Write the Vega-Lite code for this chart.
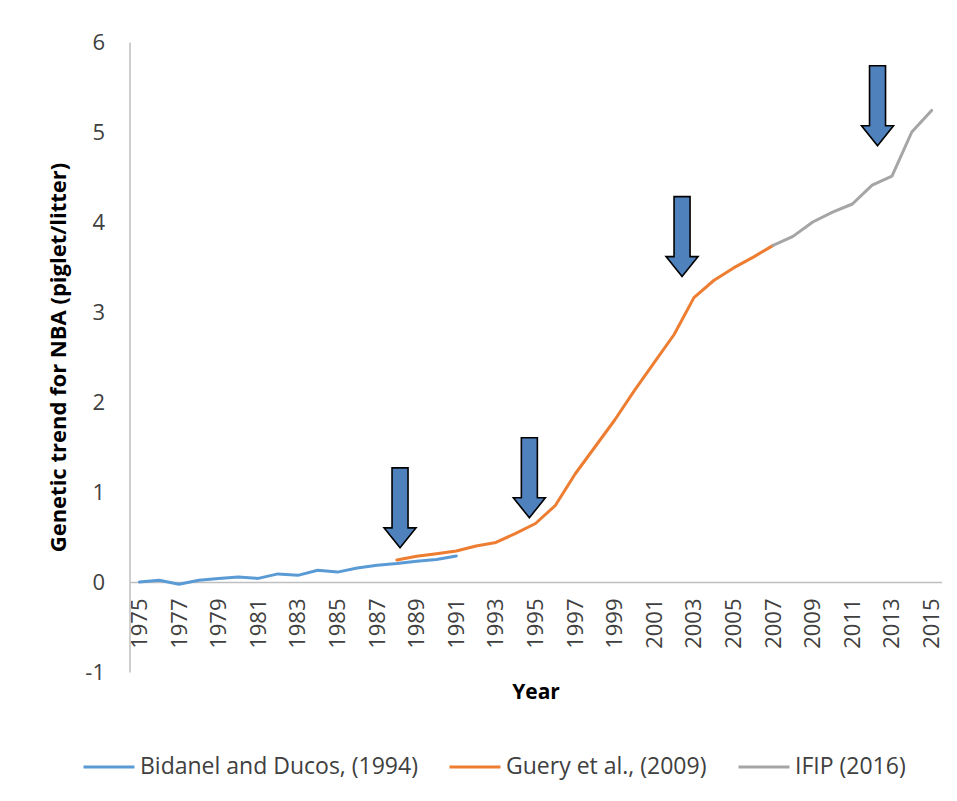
{
  "$schema": "https://vega.github.io/schema/vega-lite/v6.json",
  "width": 812,
  "height": 630,
  "autosize": "none",
  "padding": {"left": 129.5, "top": 42, "right": 15.5, "bottom": 129},
  "background": "white",
  "config": {"view": {"stroke": null}, "font": "Open Sans"},
  "datasets": {
    "lines": [
      {"year": 1975, "value": 0.0, "series": "Bidanel and Ducos, (1994)"},
      {"year": 1976, "value": 0.02, "series": "Bidanel and Ducos, (1994)"},
      {"year": 1977, "value": -0.026, "series": "Bidanel and Ducos, (1994)"},
      {"year": 1978, "value": 0.02, "series": "Bidanel and Ducos, (1994)"},
      {"year": 1979, "value": 0.04, "series": "Bidanel and Ducos, (1994)"},
      {"year": 1980, "value": 0.056, "series": "Bidanel and Ducos, (1994)"},
      {"year": 1981, "value": 0.04, "series": "Bidanel and Ducos, (1994)"},
      {"year": 1982, "value": 0.09, "series": "Bidanel and Ducos, (1994)"},
      {"year": 1983, "value": 0.074, "series": "Bidanel and Ducos, (1994)"},
      {"year": 1984, "value": 0.13, "series": "Bidanel and Ducos, (1994)"},
      {"year": 1985, "value": 0.11, "series": "Bidanel and Ducos, (1994)"},
      {"year": 1986, "value": 0.155, "series": "Bidanel and Ducos, (1994)"},
      {"year": 1987, "value": 0.185, "series": "Bidanel and Ducos, (1994)"},
      {"year": 1988, "value": 0.205, "series": "Bidanel and Ducos, (1994)"},
      {"year": 1989, "value": 0.23, "series": "Bidanel and Ducos, (1994)"},
      {"year": 1990, "value": 0.25, "series": "Bidanel and Ducos, (1994)"},
      {"year": 1991, "value": 0.29, "series": "Bidanel and Ducos, (1994)"},
      {"year": 1988, "value": 0.245, "series": "Guery et al., (2009)"},
      {"year": 1989, "value": 0.285, "series": "Guery et al., (2009)"},
      {"year": 1990, "value": 0.315, "series": "Guery et al., (2009)"},
      {"year": 1991, "value": 0.345, "series": "Guery et al., (2009)"},
      {"year": 1992, "value": 0.4, "series": "Guery et al., (2009)"},
      {"year": 1993, "value": 0.44, "series": "Guery et al., (2009)"},
      {"year": 1994, "value": 0.54, "series": "Guery et al., (2009)"},
      {"year": 1995, "value": 0.65, "series": "Guery et al., (2009)"},
      {"year": 1996, "value": 0.85, "series": "Guery et al., (2009)"},
      {"year": 1997, "value": 1.2, "series": "Guery et al., (2009)"},
      {"year": 1998, "value": 1.5, "series": "Guery et al., (2009)"},
      {"year": 1999, "value": 1.8, "series": "Guery et al., (2009)"},
      {"year": 2000, "value": 2.13, "series": "Guery et al., (2009)"},
      {"year": 2001, "value": 2.44, "series": "Guery et al., (2009)"},
      {"year": 2002, "value": 2.75, "series": "Guery et al., (2009)"},
      {"year": 2003, "value": 3.16, "series": "Guery et al., (2009)"},
      {"year": 2004, "value": 3.35, "series": "Guery et al., (2009)"},
      {"year": 2005, "value": 3.49, "series": "Guery et al., (2009)"},
      {"year": 2006, "value": 3.61, "series": "Guery et al., (2009)"},
      {"year": 2007, "value": 3.74, "series": "Guery et al., (2009)"},
      {"year": 2007, "value": 3.74, "series": "IFIP (2016)"},
      {"year": 2008, "value": 3.84, "series": "IFIP (2016)"},
      {"year": 2009, "value": 4.0, "series": "IFIP (2016)"},
      {"year": 2010, "value": 4.11, "series": "IFIP (2016)"},
      {"year": 2011, "value": 4.2, "series": "IFIP (2016)"},
      {"year": 2012, "value": 4.41, "series": "IFIP (2016)"},
      {"year": 2013, "value": 4.51, "series": "IFIP (2016)"},
      {"year": 2014, "value": 5.0, "series": "IFIP (2016)"},
      {"year": 2015, "value": 5.24, "series": "IFIP (2016)"}
    ],
    "arrows": [
      {"x": 1988.16, "y": 0.824},
      {"x": 1994.69, "y": 1.158},
      {"x": 2002.4, "y": 3.838},
      {"x": 2012.27, "y": 5.291}
    ]
  },
  "layer": [
    {
      "data": {"name": "lines"},
      "mark": {"type": "line", "strokeWidth": 3, "strokeCap": "round", "strokeJoin": "round"},
      "encoding": {
        "x": {
          "field": "year", "type": "quantitative",
          "scale": {"domain": [1974.5, 2015.5], "nice": false, "zero": false},
          "axis": {
            "values": [1975, 1977, 1979, 1981, 1983, 1985, 1987, 1989, 1991, 1993, 1995, 1997, 1999, 2001, 2003, 2005, 2007, 2009, 2011, 2013, 2015],
            "format": "d", "labelAngle": 270, "labelAlign": "right", "labelBaseline": "middle",
            "labelPadding": 16, "ticks": false, "grid": false,
            "domainColor": "#BFBFBF", "domainWidth": 1.5, "offset": -90,
            "labelFontSize": 22, "labelColor": "#404040", "labelFlush": false, "labelOverlap": false,
            "title": "Year", "titleX": 406, "titleY": 110, "titleBaseline": "middle",
            "titleFontSize": 21, "titleFontWeight": "bold", "titleColor": "black"
          }
        },
        "y": {
          "field": "value", "type": "quantitative",
          "scale": {"domain": [-1, 6], "nice": false},
          "axis": {
            "values": [-1, 0, 1, 2, 3, 4, 5, 6], "labelExpr": "'' + datum.value",
            "ticks": false, "grid": false, "domainColor": "#BFBFBF", "domainWidth": 1.5,
            "labelPadding": 25, "labelFontSize": 22, "labelColor": "#404040",
            "title": "Genetic trend for NBA (piglet/litter)", "titleFontSize": 22,
            "titleFontWeight": "bold", "titleColor": "black",
            "titleX": -71, "titleY": 315, "titleAngle": 270, "titleBaseline": "middle", "titleAlign": "center"
          }
        },
        "color": {
          "field": "series", "type": "nominal",
          "scale": {
            "domain": ["Bidanel and Ducos, (1994)", "Guery et al., (2009)", "IFIP (2016)"],
            "range": ["#5B9BD5", "#ED7D31", "#A5A5A5"]
          },
          "legend": {
            "title": null, "orient": "none", "legendX": -47.5, "legendY": 698, "direction": "horizontal",
            "symbolType": "stroke", "symbolSize": 2600, "symbolStrokeWidth": 3,
            "labelFontSize": 23, "labelColor": "#404040", "labelOffset": 4, "columnPadding": 25, "labelLimit": 0
          }
        }
      }
    },
    {
      "data": {"name": "arrows"},
      "mark": {
        "type": "point", "shape": "M-0.2,-1 L0.2,-1 L0.2,0.5 L0.4,0.5 L0,1 L-0.4,0.5 L-0.2,0.5 Z",
        "size": 6400, "filled": true, "fill": "#4F81BD", "stroke": "black", "strokeWidth": 1.6, "opacity": 1
      },
      "encoding": {
        "x": {"field": "x", "type": "quantitative"},
        "y": {"field": "y", "type": "quantitative"}
      }
    }
  ]
}
